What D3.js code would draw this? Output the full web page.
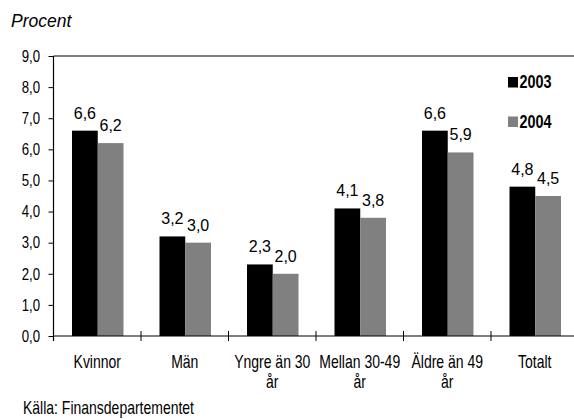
<!DOCTYPE html>
<html>
<head>
<meta charset="utf-8">
<script src="https://cdn.jsdelivr.net/npm/d3@7"></script>
<style>
  html, body { margin: 0; padding: 0; background: #fff; }
  svg { display: block; }
</style>
</head>
<body>
<svg id="chart" width="574" height="419"></svg>
<script>
// Andel i procent per grupp, 2003 och 2004
const categories = ["Kvinnor", "Män", "Yngre än 30 år", "Mellan 30-49 år", "Äldre än 49 år", "Totalt"];
const years = ["2003", "2004"];
const values2003 = [6.6, 3.2, 2.3, 4.1, 6.6, 4.8];
const values2004 = [6.2, 3.0, 2.0, 3.8, 5.9, 4.5];
const yTicks = [0, 1, 2, 3, 4, 5, 6, 7, 8, 9];
const colors = ["#000000", "#808080"];

// Smal typsnittsvariant: Liberation Sans hoptryckt på bredden
const sans = "'Liberation Sans', Arial, sans-serif";
const squeeze = 0.8;

const svg = d3.select("#chart");
const plotLeft = 53.5, plotRight = 578.5, plotTop = 56, plotBottom = 336;

const x = d3.scaleBand().domain(categories).range([plotLeft, plotRight]);
const xs = d3.scaleBand().domain(years).range([18.5, 70]);
const y = d3.scaleLinear().domain([0, 9]).range([plotBottom, plotTop]);
const fmt = v => d3.format(".1f")(v).replace(".", ",");

function narrowText(parent, px, py, size, str, weight) {
  return parent.append("text")
    .attr("transform", `translate(${px},${py}) scale(${squeeze},1)`)
    .attr("font-family", sans)
    .attr("font-size", size)
    .attr("font-weight", weight || "normal")
    .attr("fill", "#000")
    .text(str);
}

// Rambalk överst
svg.append("line")
  .attr("x1", plotLeft).attr("x2", plotRight).attr("y1", plotTop).attr("y2", plotTop)
  .attr("stroke", "#000").attr("stroke-width", 1.2);

// Staplar och värdeetiketter
const series = years.map((yr, i) => ({ year: yr, values: i === 0 ? values2003 : values2004, color: colors[i] }));
const groups = svg.append("g");
series.forEach(s => {
  const rows = categories.map((c, j) => ({ c, v: s.values[j] }));
  groups.selectAll(null)
    .data(rows)
    .join("rect")
    .attr("x", d => x(d.c) + xs(s.year))
    .attr("y", d => y(d.v))
    .attr("width", xs.bandwidth())
    .attr("height", d => y(0) - y(d.v))
    .attr("fill", s.color);
  groups.selectAll(null)
    .data(rows)
    .join("text")
    .attr("x", d => x(d.c) + xs(s.year) + xs.bandwidth() / 2)
    .attr("y", d => y(d.v) - 12)
    .attr("text-anchor", "middle")
    .attr("font-family", sans)
    .attr("font-size", 16)
    .attr("fill", "#000")
    .text(d => fmt(d.v));
});

// Y-axel
const yAxis = d3.axisLeft(y).tickValues(yTicks).tickSize(5).tickPadding(8).tickFormat(fmt);
const gy = svg.append("g").attr("transform", `translate(${plotLeft},0)`).call(yAxis);
gy.select(".domain").remove();
gy.selectAll(".tick line").attr("stroke", "#000");
gy.selectAll(".tick text")
  .attr("x", 0)
  .attr("transform", `translate(-13.5,0) scale(${squeeze},1)`)
  .attr("font-family", sans).attr("font-size", 16.5).attr("fill", "#000");
svg.append("line")
  .attr("x1", plotLeft).attr("x2", plotLeft).attr("y1", plotTop).attr("y2", plotBottom + 5)
  .attr("stroke", "#000").attr("stroke-width", 1.2);

// X-axel med streck mellan grupperna
svg.append("line")
  .attr("x1", plotLeft).attr("x2", plotRight).attr("y1", plotBottom).attr("y2", plotBottom)
  .attr("stroke", "#000").attr("stroke-width", 1.2);
svg.append("g").selectAll("line")
  .data(categories.slice(1))
  .join("line")
  .attr("x1", d => x(d)).attr("x2", d => x(d))
  .attr("y1", plotBottom - 5).attr("y2", plotBottom + 5)
  .attr("stroke", "#000");

// Kategorietiketter, radbrutna
const xLabels = svg.append("g");
categories.forEach(d => {
  const t = narrowText(xLabels, x(d) + x.bandwidth() / 2, 368, 17.5, "").attr("text-anchor", "middle");
  const words = d.split(" ");
  let line = [];
  let tspan = t.append("tspan").attr("x", 0).attr("dy", 0);
  words.forEach(w => {
    line.push(w);
    tspan.text(line.join(" "));
    if (tspan.node().getComputedTextLength() * squeeze > 85 && line.length > 1) {
      line.pop();
      tspan.text(line.join(" "));
      line = [w];
      tspan = t.append("tspan").attr("x", 0).attr("dy", 20).text(w);
    }
  });
});

// Förklaring
const legend = svg.append("g");
series.forEach((s, i) => {
  const ly = 77 + i * 39.5;
  legend.append("rect").attr("x", 508).attr("y", ly).attr("width", 10).attr("height", 10.5).attr("fill", s.color);
  narrowText(legend, 519.5, ly + 11, 18, s.year, "bold");
});

// Enhet och källa
svg.append("text").attr("x", 11).attr("y", 26.5)
  .attr("font-family", sans).attr("font-style", "italic").attr("font-size", 17.5)
  .attr("fill", "#000").text("Procent");
narrowText(svg, 23, 414, 17.5, "Källa: Finansdepartementet");
</script>
</body>
</html>
